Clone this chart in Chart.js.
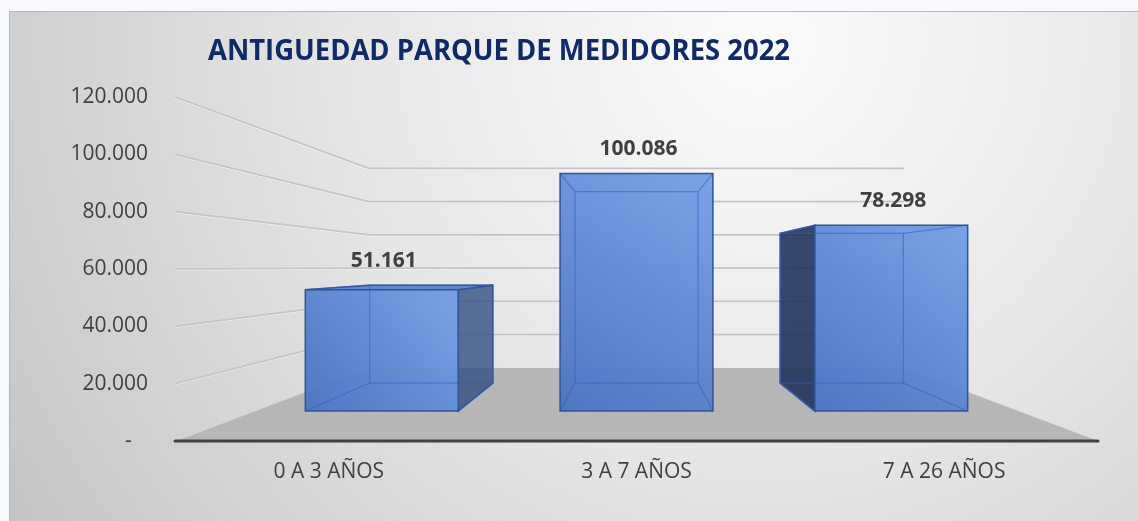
<!DOCTYPE html>
<html>
<head>
<meta charset="utf-8">
<script src="https://cdn.jsdelivr.net/npm/chart.js@4.4.0/dist/chart.umd.min.js"></script>
<style>
  html, body { margin: 0; padding: 0; background: #f8f9fc; }
  #wrap { position: relative; width: 1138px; height: 521px; }
</style>
</head>
<body>
<div id="wrap"><canvas id="chart"></canvas></div>
<script>
// ── Data ─────────────────────────────────────────────────────────────────────
const categories = ['0 A 3 AÑOS', '3 A 7 AÑOS', '7 A 26 AÑOS'];
const medidores  = [51161, 100086, 78298];
const yTicks     = [0, 20000, 40000, 60000, 80000, 100000, 120000];
const chartTitle = 'ANTIGUEDAD PARQUE DE MEDIDORES 2022';

// ── Perspective settings (front plane = 1, back wall = 0.58) ─────────────────
const DEPTH = { wall: 0.58, barFront: 0.828, barBack: 0.667, eye: 0.506 };

// thousands with a dot, zero shown as a dash (Excel accounting style)
function fmt(v) {
  if (v === 0) return '-   ';
  return String(Math.round(v)).replace(/\B(?=(\d{3})+(?!\d))/g, '.');
}

function vp(chart) {
  const a = chart.chartArea;
  return { x: (a.left + a.right) / 2, y: a.bottom - DEPTH.eye * (a.bottom - a.top) };
}
function proj(v, x, y, s) {
  return [v.x + (x - v.x) * s, v.y + (y - v.y) * s];
}
function poly(ctx, pts) {
  ctx.beginPath();
  pts.forEach((p, i) => i ? ctx.lineTo(p[0], p[1]) : ctx.moveTo(p[0], p[1]));
  ctx.closePath();
}

// ── Background, floor, walls gridlines ───────────────────────────────────────
const scenePlugin = {
  id: 'scene',
  beforeDraw(chart) {
    const { ctx, width, height } = chart;
    ctx.save();
    ctx.fillStyle = '#f8f9fc';
    ctx.fillRect(0, 0, width, height);
    const g = ctx.createRadialGradient(760, 40, 20, 760, 40, 900);
    g.addColorStop(0, '#fafafa');
    g.addColorStop(0.45, '#e6e6e6');
    g.addColorStop(1, '#c4c4c4');
    ctx.fillStyle = g;
    ctx.fillRect(9, 11, width - 9, height - 11);
    ctx.strokeStyle = '#b8b8b8';
    ctx.lineWidth = 1;
    ctx.beginPath();
    ctx.moveTo(9.5, height); ctx.lineTo(9.5, 11.5); ctx.lineTo(width, 11.5);
    ctx.stroke();

    const a = chart.chartArea;
    const y = chart.scales.y;
    const v = vp(chart);
    const w = DEPTH.wall;

    // floor
    poly(ctx, [
      proj(v, a.left, a.bottom, 1), proj(v, a.right, a.bottom, 1),
      proj(v, a.right, a.bottom, w), proj(v, a.left, a.bottom, w)
    ]);
    ctx.fillStyle = '#b6b6b6';
    ctx.fill();

    // gridlines: left wall + back wall
    yTicks.forEach(t => {
      if (t === 0) return;
      const py = y.getPixelForValue(t);
      const p0 = proj(v, a.left, py, 1);
      const p1 = proj(v, a.left, py, w);
      const p2 = proj(v, a.right, py, w);
      ctx.beginPath();
      ctx.moveTo(p0[0], p0[1] + 1); ctx.lineTo(p1[0], p1[1] + 1); ctx.lineTo(p2[0], p2[1] + 1);
      ctx.strokeStyle = 'rgba(255,255,255,0.7)';
      ctx.lineWidth = 1;
      ctx.stroke();
      ctx.beginPath();
      ctx.moveTo(p0[0], p0[1]); ctx.lineTo(p1[0], p1[1]); ctx.lineTo(p2[0], p2[1]);
      ctx.strokeStyle = '#c4c4c4';
      ctx.lineWidth = 1.7;
      ctx.stroke();
    });
    // floor left edge
    const f0 = proj(v, a.left, a.bottom, 1), f1 = proj(v, a.left, a.bottom, w);
    ctx.beginPath(); ctx.moveTo(f0[0], f0[1]); ctx.lineTo(f1[0], f1[1]);
    ctx.strokeStyle = '#d6d6d6'; ctx.lineWidth = 1; ctx.stroke();

    // title
    ctx.fillStyle = '#0f2a66';
    ctx.font = 'bold 29px "Open Sans", sans-serif';
    ctx.textAlign = 'left';
    ctx.textBaseline = 'middle';
    const tw = ctx.measureText(chartTitle).width;
    ctx.save();
    ctx.translate(208, 52);
    ctx.scale(582 / tw, 1);
    ctx.fillText(chartTitle, 0, 0);
    ctx.restore();
    ctx.restore();
  },

  // ── 3D boxes built from the bar elements ──────────────────────────────────
  afterDatasetsDraw(chart) {
    const { ctx } = chart;
    const a = chart.chartArea;
    const v = vp(chart);
    const meta = chart.getDatasetMeta(0);
    const sf = DEPTH.barFront, sb = DEPTH.barBack;
    ctx.save();
    meta.data.forEach((bar, i) => {
      const x0 = bar.x - bar.width / 2, x1 = bar.x + bar.width / 2;
      const top = bar.y, base = bar.base;
      const F = {
        tl: proj(v, x0, top, sf), tr: proj(v, x1, top, sf),
        bl: proj(v, x0, base, sf), br: proj(v, x1, base, sf)
      };
      const B = {
        tl: proj(v, x0, top, sb), tr: proj(v, x1, top, sb),
        bl: proj(v, x0, base, sb), br: proj(v, x1, base, sb)
      };

      // side faces
      if (B.tr[0] > F.tr[0] + 1) {
        poly(ctx, [F.tr, B.tr, B.br, F.br]);
        ctx.fillStyle = 'rgba(42,72,125,0.76)';
        ctx.fill();
        ctx.strokeStyle = '#2f5597'; ctx.lineWidth = 1.5; ctx.stroke();
      }
      if (B.tl[0] < F.tl[0] - 1) {
        poly(ctx, [F.tl, B.tl, B.bl, F.bl]);
        ctx.fillStyle = 'rgba(34,52,92,0.9)';
        ctx.fill();
        ctx.strokeStyle = '#2f5597'; ctx.lineWidth = 1.5; ctx.stroke();
      }
      // top face
      if (top > v.y) {
        poly(ctx, [F.tl, F.tr, B.tr, B.tl]);
        ctx.fillStyle = 'rgba(90,130,205,0.95)';
        ctx.fill();
        ctx.strokeStyle = '#2f5597'; ctx.lineWidth = 1.5; ctx.stroke();
      }

      // front face
      const g = ctx.createLinearGradient(F.bl[0], F.bl[1], F.tr[0], F.tr[1]);
      g.addColorStop(0, 'rgba(74,116,192,0.96)');
      g.addColorStop(1, 'rgba(118,159,230,0.96)');
      poly(ctx, [F.tl, F.tr, F.br, F.bl]);
      ctx.fillStyle = g;
      ctx.fill();

      // hidden edges seen through the glass
      ctx.strokeStyle = 'rgba(52,92,180,0.55)';
      ctx.lineWidth = 1.2;
      poly(ctx, [B.tl, B.tr, B.br, B.bl]);
      ctx.stroke();
      ['tl', 'tr', 'bl', 'br'].forEach(k => {
        ctx.beginPath(); ctx.moveTo(F[k][0], F[k][1]); ctx.lineTo(B[k][0], B[k][1]); ctx.stroke();
      });

      poly(ctx, [F.tl, F.tr, F.br, F.bl]);
      ctx.strokeStyle = '#2f5597';
      ctx.lineWidth = 1.5;
      ctx.stroke();

      // value label
      const cx = (F.tl[0] + F.tr[0]) / 2;
      ctx.fillStyle = '#404040';
      ctx.font = 'bold 21px "Open Sans", sans-serif';
      ctx.textAlign = 'center';
      ctx.textBaseline = 'middle';
      ctx.fillText(fmt(medidores[i]), cx + 2, Math.min(F.tl[1], B.tl[1]) - 24);
    });

    // front edge of the floor (category axis)
    ctx.beginPath();
    ctx.moveTo(a.left, a.bottom);
    ctx.lineTo(a.right, a.bottom);
    ctx.strokeStyle = '#404040';
    ctx.lineWidth = 3;
    ctx.lineCap = 'round';
    ctx.stroke();
    ctx.restore();
  }
};

new Chart(document.getElementById('chart'), {
  type: 'bar',
  data: {
    labels: categories,
    datasets: [{
      label: 'Medidores',
      data: medidores,
      backgroundColor: 'rgba(0,0,0,0)',
      borderWidth: 0,
      barPercentage: 0.6,
      categoryPercentage: 1,
    }],
  },
  options: {
    responsive: true,
    maintainAspectRatio: false,
    animation: false,
    events: [],
    layout: { padding: { top: 97, right: 40, left: 0, bottom: 0 } },
    plugins: {
      legend: { display: false },
      tooltip: { enabled: false },
      title: { display: false },
    },
    scales: {
      x: {
        grid: { display: false, drawTicks: false },
        border: { display: false },
        afterFit: s => { s.height = 80; },
        ticks: {
          padding: 18,
          color: '#404040',
          font: { family: '"Open Sans", sans-serif', size: 21 },
        },
      },
      y: {
        min: 0,
        max: 120000,
        afterFit: s => { s.width = 175; },
        afterBuildTicks: s => { s.ticks = yTicks.map(t => ({ value: t })); },
        grid: { display: false, drawTicks: false },
        border: { display: false },
        ticks: {
          padding: 27,
          color: '#404040',
          font: { family: '"Open Sans", sans-serif', size: 21 },
          callback: v => fmt(v),
        },
      },
    },
  },
  plugins: [scenePlugin],
});
</script>
</body>
</html>
